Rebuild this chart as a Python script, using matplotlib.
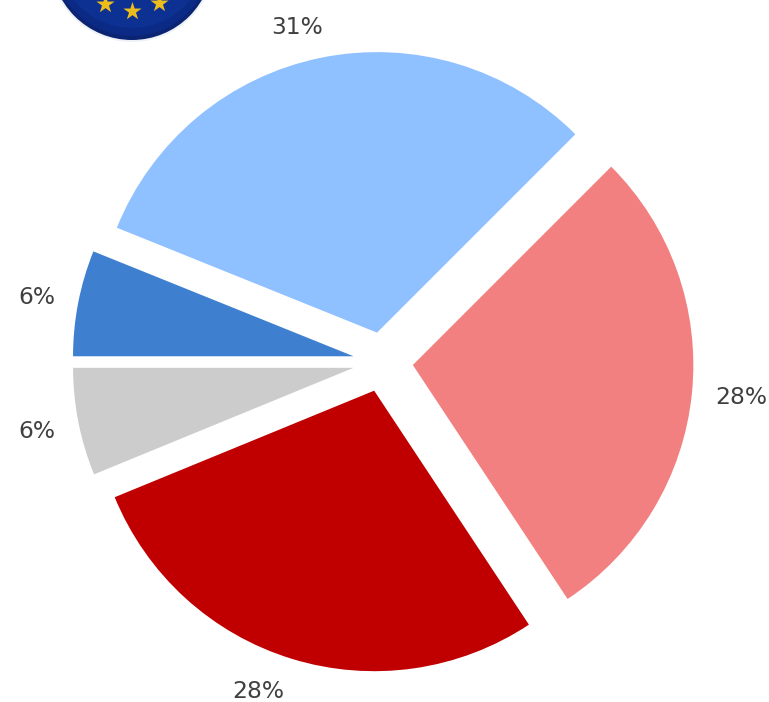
"""Pie of five shares with the EU badge cut off at the top edge."""
import matplotlib
matplotlib.use("Agg")
import matplotlib.pyplot as plt
from matplotlib.patches import Circle

# percent shares, clockwise from 9 o'clock
values = [6.1, 31.4, 28.2, 28.1, 6.2]
colors = ["#3f7fcf", "#8fc0ff", "#f28080", "#c00000", "#cccccc"]

W, H = 769, 702
RADIUS = 280.5
CENTER = (383, H - 362)
EXPLODE = 30  # pie takes this in data units, which are pixels here

# label centres, px from top left; the original does not keep them on the mid-angle
label_px = [(37, 298), (297, 27), (741, 397), (258, 692), (37, 431)]

star_x = [105, 132, 159]
star_y = [4, 10.5, 3]


def draw_badge(ax):
    # rough badge: rings for the rim, then the stars
    cx, cy = 132, H + 41
    rings = [(0, 83, "#eef1f6"), (0, 81, "#0a2372"), (2, 79, "#0b2a85"), (5, 74, "#0c3193")]
    for dy, r, c in rings:
        ax.add_patch(Circle((cx, cy + dy), r, color=c, lw=0, zorder=1))
    ax.scatter(star_x, [H - y for y in star_y], marker="*", s=190,
               color="#ecbd1c", lw=0, zorder=2, clip_on=True)


def main():
    fig = plt.figure(figsize=(W / 100, H / 100), dpi=100)
    ax = fig.add_axes([0, 0, 1, 1])
    _, _, pcts = ax.pie(values, colors=colors, startangle=180, counterclock=False,
                        radius=RADIUS, center=CENTER,
                        explode=[EXPLODE] * len(values), autopct="%.0f%%",
                        textprops=dict(fontsize=16.8, color="#404040"))
    for t, (px, py) in zip(pcts, label_px):
        t.set_position((px, H - py))
    draw_badge(ax)
    ax.set_xlim(0, W)
    ax.set_ylim(0, H)
    ax.set_aspect("equal")
    ax.axis("off")
    fig.savefig("out.png", dpi=100)


if __name__ == "__main__":
    main()
